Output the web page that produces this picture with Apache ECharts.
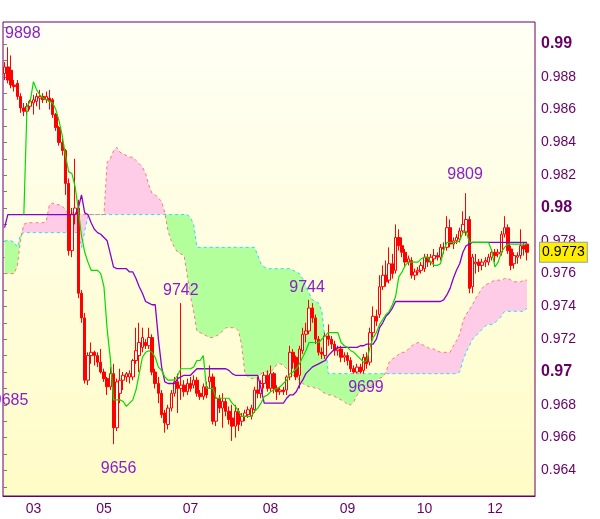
<!DOCTYPE html>
<html><head><meta charset="utf-8">
<script src="https://cdn.jsdelivr.net/npm/echarts@6/dist/echarts.min.js"></script>
<style>html,body{margin:0;padding:0;background:#fff}#c{width:600px;height:519px}</style>
</head><body><div id="c"></div>
<script>
// All price values are in units of 0.0001 (e.g. 9898 = 0.9898)
const opens = [
9882,9886,9884,9875,9876,9868,9861,9859,9862,9864,
9865,9867,9868,9866,9867,9866,9857,9849,9840,9835,
9815,9774,9796,9800,9748,9733,9695,9710,9712,9710,
9706,9700,9696,9691,9699,9666,9687,9695,9697,9697,
9697,9707,9710,9715,9718,9716,9721,9700,9693,9687,
9675,9668,9678,9687,9694,9690,9692,9688,9693,9692,
9695,9687,9685,9691,9694,9697,9670,9684,9678,9682,
9676,9672,9667,9676,9670,9673,9674,9673,9677,9689,
9687,9693,9698,9690,9699,9690,9688,9689,9689,9697,
9712,9709,9698,9713,9723,9725,9739,9733,9720,9712,
9710,9722,9720,9717,9713,9714,9709,9710,9707,9702,
9700,9703,9701,9709,9706,9724,9734,9735,9752,9759,
9756,9766,9762,9782,9777,9773,9767,9768,9759,9761,
9762,9763,9770,9767,9769,9771,9770,9776,9776,9788,
9778,9780,9781,9786,9785,9793,9752,9766,9767,9765,
9767,9767,9770,9773,9772,9773,9784,9788,9775,9766,
9770,9771,9777,9778];
const closes = [
9886,9878,9875,9874,9868,9861,9859,9862,9865,9866,
9868,9868,9866,9868,9865,9857,9849,9840,9835,9815,
9774,9796,9800,9748,9733,9695,9710,9712,9710,9706,
9700,9696,9691,9699,9666,9694,9695,9698,9699,9699,
9707,9713,9718,9721,9716,9721,9700,9693,9687,9674,
9669,9678,9687,9694,9690,9692,9688,9693,9690,9695,
9687,9685,9691,9686,9697,9670,9684,9678,9682,9676,
9671,9667,9676,9668,9673,9675,9677,9678,9689,9687,
9693,9698,9690,9699,9690,9688,9689,9688,9697,9712,
9706,9697,9714,9723,9725,9739,9733,9720,9712,9711,
9722,9720,9717,9713,9714,9709,9710,9707,9702,9700,
9703,9700,9709,9705,9724,9734,9731,9752,9759,9755,
9766,9760,9782,9777,9773,9767,9769,9759,9761,9762,
9765,9770,9767,9770,9771,9770,9776,9775,9788,9778,
9780,9782,9786,9790,9793,9751,9770,9767,9765,9767,
9768,9770,9773,9771,9773,9784,9788,9774,9765,9771,
9771,9777,9775,9773];
const lows = [
9878,9876,9873,9871,9866,9858,9856,9857,9860,9857,
9862,9860,9864,9864,9860,9855,9847,9838,9832,9808,
9771,9770,9790,9745,9730,9693,9692,9705,9704,9703,
9699,9694,9686,9689,9656,9664,9681,9689,9694,9693,
9695,9705,9700,9712,9714,9714,9698,9690,9681,9672,
9663,9665,9676,9685,9675,9683,9685,9686,9688,9690,
9685,9683,9683,9684,9690,9668,9667,9675,9666,9673,
9668,9658,9660,9664,9667,9670,9672,9671,9675,9684,
9684,9690,9688,9688,9687,9683,9686,9686,9686,9695,
9702,9695,9690,9711,9718,9723,9730,9717,9710,9708,
9708,9716,9714,9710,9710,9706,9706,9704,9700,9699,
9699,9699,9699,9702,9704,9721,9728,9733,9750,9752,
9754,9757,9760,9774,9770,9764,9765,9757,9756,9759,
9760,9761,9764,9765,9764,9768,9768,9772,9774,9776,
9775,9778,9779,9784,9783,9748,9748,9760,9761,9762,
9764,9765,9768,9767,9770,9771,9782,9772,9762,9763,
9766,9769,9771,9768];
const highs = [
9889,9898,9893,9878,9878,9870,9864,9864,9866,9869,
9870,9872,9870,9871,9872,9867,9858,9850,9842,9836,
9818,9800,9830,9805,9750,9736,9712,9718,9713,9712,
9714,9702,9697,9703,9705,9696,9702,9700,9700,9701,
9708,9727,9730,9727,9720,9727,9723,9702,9697,9689,
9677,9680,9689,9697,9699,9742,9695,9696,9697,9698,
9697,9689,9693,9694,9704,9699,9691,9686,9687,9684,
9679,9680,9680,9678,9675,9677,9679,9680,9691,9697,
9695,9700,9701,9704,9700,9692,9691,9691,9698,9716,
9714,9710,9716,9727,9730,9744,9742,9735,9722,9715,
9724,9729,9722,9719,9716,9716,9712,9712,9709,9704,
9705,9705,9711,9712,9727,9740,9738,9759,9765,9768,
9776,9772,9790,9787,9782,9775,9771,9770,9763,9764,
9767,9772,9772,9772,9775,9773,9778,9779,9795,9793,
9782,9784,9788,9798,9809,9795,9772,9772,9769,9769,
9770,9772,9775,9775,9775,9786,9795,9790,9777,9773,
9773,9787,9779,9779];
const tenkan = [
null,null,null,null,null,null,9796,9862,9865,9877,
9872,9869,9867,9866,9865,9864,9860,9853,9844,9832,
9822,9821,9813,9799,9783,9773,9767,9762,9762,9762,
9760,9752,9726,9708,9683,9683,9683,9682,9679,9681,
9683,9689,9699,9709,9712,9713,9712,9709,9703,9701,
9697,9695,9695,9695,9698,9702,9702,9702,9702,9703,
9707,9707,9710,9690,9690,9690,9684,9684,9684,9684,
9684,9681,9679,9676,9673,9673,9673,9673,9676,9678,
9681,9685,9686,9688,9689,9690,9691,9693,9695,9699,
9700,9702,9705,9709,9713,9718,9718,9718,9718,9720,
9722,9724,9724,9724,9724,9718,9716,9715,9713,9712,
9710,9708,9706,9707,9715,9721,9724,9729,9732,9735,
9737,9741,9746,9758,9761,9765,9767,9767,9767,9767,
9769,9770,9770,9767,9765,9765,9766,9774,9779,9779,
9779,9779,9780,9785,9786,9779,9779,9779,9779,9779,
9779,9779,9774,9764,9767,9773,9776,9778,9778,9778,
9778,9778,9778,9778];
const kijun = [
9788,9796,9796,9796,9796,9796,9796,9796,9796,9796,
9796,9796,9796,9796,9796,9796,9796,9796,9796,9796,
9796,9796,9796,9800,9808,9797,9796,9791,9787,9785,
9784,9782,9780,9772,9764,9763,9763,9763,9763,9761,
9761,9757,9752,9748,9743,9742,9741,9741,9720,9703,
9694,9693,9693,9693,9696,9697,9698,9698,9698,9700,
9702,9702,9702,9702,9702,9702,9702,9702,9702,9702,
9701,9699,9698,9698,9698,9698,9698,9698,9698,9698,
9690,9681,9681,9681,9681,9681,9681,9681,9684,9686,
9686,9688,9692,9695,9699,9701,9703,9704,9705,9706,
9707,9710,9712,9714,9715,9715,9715,9715,9715,9715,
9715,9716,9716,9717,9717,9717,9720,9727,9730,9734,
9736,9739,9743,9743,9743,9743,9743,9743,9743,9743,
9743,9743,9743,9743,9743,9743,9743,9744,9747,9751,
9757,9762,9766,9773,9777,9778,9779,9779,9779,9779,
9779,9779,9779,9779,9779,9779,9779,9779,9779,9779,
9779,9779,9779,9779];
const spanA = [
9780,9780,9780,9779,9776,9784,9785,9785,9785,9785,
9785,9785,9785,9785,9785,9785,9785,9785,9785,9785,
9785,9785,9785,9785,9776,9786,9795,9796,9796,9796,
9796,9796,9796,9796,9796,9796,9796,9796,9796,9796,
9796,9796,9796,9796,9796,9796,9796,9796,9796,9796,
9796,9796,9796,9796,9796,9796,9796,9796,9794,9790,
9776,9776,9776,9776,9776,9776,9776,9776,9776,9776,
9776,9776,9776,9776,9776,9776,9776,9776,9776,9771,
9766,9764,9763,9763,9763,9763,9763,9763,9763,9763,
9762,9761,9760,9757,9752,9748,9744,9743,9742,9737,
9719,9699,9699,9699,9699,9699,9699,9699,9699,9699,
9699,9699,9699,9699,9699,9699,9699,9699,9699,9699,
9699,9699,9699,9699,9699,9699,9699,9699,9699,9699,
9699,9699,9699,9699,9699,9699,9699,9699,9699,9699,
9699,9699,9700,9707,9712,9716,9720,9722,9724,9726,
9728,9729,9729,9730,9732,9734,9737,9737,9737,9737,
9737,9737,9737,9739];
const spanB = [
9760,9760,9760,9760,9765,9781,9790,9791,9791,9791,
9791,9791,9791,9792,9802,9803,9802,9802,9801,9799,
9797,9797,9797,9797,9796,9796,9796,9796,9796,9796,
9796,9796,9828,9830,9835,9837,9834,9833,9832,9831,
9831,9829,9827,9825,9821,9814,9809,9808,9806,9804,
9797,9786,9780,9776,9773,9772,9771,9759,9746,9737,
9725,9724,9723,9722,9721,9721,9722,9723,9725,9727,
9727,9727,9727,9725,9716,9699,9697,9696,9696,9696,
9699,9700,9700,9700,9702,9705,9705,9704,9702,9699,
9698,9697,9695,9693,9692,9691,9691,9690,9690,9688,
9687,9686,9686,9685,9684,9683,9682,9680,9680,9682,
9686,9688,9690,9690,9691,9693,9695,9696,9697,9700,
9706,9708,9709,9711,9712,9712,9714,9716,9717,9718,
9717,9716,9715,9714,9714,9713,9712,9712,9712,9712,
9716,9719,9723,9731,9735,9738,9741,9745,9748,9751,
9753,9754,9755,9756,9756,9756,9757,9757,9756,9755,
9755,9755,9756,9756];
const slotCount = 166;
const tickLabels = ['03','05','07','08','09','10','12'];
const tickIndex = [9,31,58,83,107,131,153];
const markIdx = [1,34,55,95,109,144];
const markKind = ['high','low','high','high','low','high'];
const edgeLow = 9685; // low marker whose label is cut at the left edge

const FONT = 'Liberation Sans, Arial, sans-serif';
const PURPLE_TXT = '#660066';
const LABEL_PURPLE = '#8a1ec8';

const categories = [];
for (let i = 0; i < slotCount; i++) {
  const k = tickIndex.indexOf(i);
  categories.push(k >= 0 ? tickLabels[k] : '');
}
const candles = opens.map((o, i) => [o, closes[i], lows[i], highs[i]]);
const cloudBase = spanA.map((a, i) => Math.min(a, spanB[i]));
const cloudGreen = spanA.map((a, i) => Math.max(a - spanB[i], 0));
const cloudPink = spanA.map((a, i) => Math.max(spanB[i] - a, 0));

const markOffsets = [[15,-14],[5,24],[0,-13],[-2,-12],[12,14],[-1,-19]];
const markPoints = markIdx.map((idx, k) => {
  const v = markKind[k] === 'high' ? highs[idx] : lows[idx];
  return {coord: [idx, v], value: v, label: {offset: markOffsets[k]}};
});
markPoints.push({coord: [0, edgeLow], value: edgeLow, label: {offset: [6, 4]}});

const showTick = (idx) => tickIndex.indexOf(idx) >= 0;
const last = closes.length - 1;

const chart = echarts.init(document.getElementById('c'), null, {renderer: 'canvas'});
chart.setOption({
  animation: false,
  backgroundColor: '#ffffff',
  textStyle: {fontFamily: FONT},
  grid: [
    {left: 3, right: 65, top: 22, bottom: 23, show: true, borderColor: PURPLE_TXT, borderWidth: 1,
     backgroundColor: new echarts.graphic.LinearGradient(0, 0, 0, 1, [
       {offset: 0, color: '#fffff6'}, {offset: 1, color: '#fffcc6'}])},
    {left: 3, right: 65, top: 27.576, bottom: 32.2}
  ],
  xAxis: [
    {type: 'category', gridIndex: 0, data: categories, boundaryGap: true,
     axisLine: {lineStyle: {color: PURPLE_TXT}},
     axisTick: {alignWithLabel: true, interval: showTick, length: 4, lineStyle: {color: '#9a9a9a'}},
     axisLabel: {interval: showTick, color: PURPLE_TXT, fontSize: 14, margin: 6, fontFamily: FONT},
     splitLine: {show: false}},
    {type: 'value', gridIndex: 1, show: false, min: 0, max: 1}
  ],
  yAxis: [
    {type: 'value', gridIndex: 0, min: 9624.4, max: 9913.4, show: false, scale: true},
    {type: 'value', gridIndex: 1, position: 'right', min: 9630, max: 9910, interval: 10,
     axisLine: {show: false},
     axisTick: {show: true, length: 4, lineStyle: {color: '#8c708c'}},
     splitLine: {show: false},
     axisLabel: {margin: 6, color: PURPLE_TXT, fontSize: 14, fontFamily: FONT,
       formatter: (v) => {
         const r = Math.round(v);
         if (r % 100 === 0) return '{b|' + (r / 10000) + '}';
         if (r % 20 === 0) return (r / 10000).toFixed(3);
         return '';
       },
       rich: {b: {fontWeight: 'bold', fontSize: 16, color: PURPLE_TXT, fontFamily: FONT}}}}
  ],
  series: [
    {type: 'line', name: 'cloudBase', data: cloudBase, stack: 'cloud', symbol: 'none',
     lineStyle: {opacity: 0}, silent: true, z: 1},
    {type: 'line', name: 'cloudGreen', data: cloudGreen, stack: 'cloud', symbol: 'none',
     lineStyle: {opacity: 0}, areaStyle: {color: '#b2ff9c', opacity: 1}, silent: true, z: 1},
    {type: 'line', name: 'cloudPink', data: cloudPink, stack: 'cloud', symbol: 'none',
     lineStyle: {opacity: 0}, areaStyle: {color: '#ffcce8', opacity: 1}, silent: true, z: 1},
    {type: 'line', name: 'spanA', data: spanA, symbol: 'none', z: 2,
     lineStyle: {color: '#22ddff', width: 1, type: [3, 3]}},
    {type: 'line', name: 'spanB', data: spanB, symbol: 'none', z: 2,
     lineStyle: {color: '#ff7777', width: 1, type: [3, 3]}},
    {type: 'candlestick', name: 'price', data: candles, barWidth: 3, z: 3,
     itemStyle: {color: '#fffff0', color0: '#ff0000', borderColor: '#ff0000', borderColor0: '#ff0000', borderWidth: 1},
     markPoint: {symbol: 'circle', symbolSize: 0, silent: true, data: markPoints,
       label: {show: true, position: 'inside', color: LABEL_PURPLE, fontSize: 16, fontFamily: FONT,
         formatter: (p) => String(p.value)}}},
    {type: 'line', name: 'kijun', data: kijun, symbol: 'none', z: 4,
     lineStyle: {color: '#8800cc', width: 1.3},
     markLine: {silent: true, symbol: ['none', 'none'], data: [{yAxis: closes[last]}],
       lineStyle: {color: 'rgba(0,0,0,0)', width: 1, type: 'solid'},
       label: {show: true, position: 'end', distance: 5, formatter: () => (closes[last] / 10000).toFixed(4),
         backgroundColor: '#ffee00', borderColor: '#8fa0b4', borderWidth: 1, padding: [3, 2, 2, 2],
         color: '#000', fontSize: 14, fontFamily: FONT}}},
    {type: 'line', name: 'tenkan', data: tenkan, symbol: 'none', z: 5,
     lineStyle: {color: '#00dd00', width: 1.2}}
  ]
});
</script></body></html>
